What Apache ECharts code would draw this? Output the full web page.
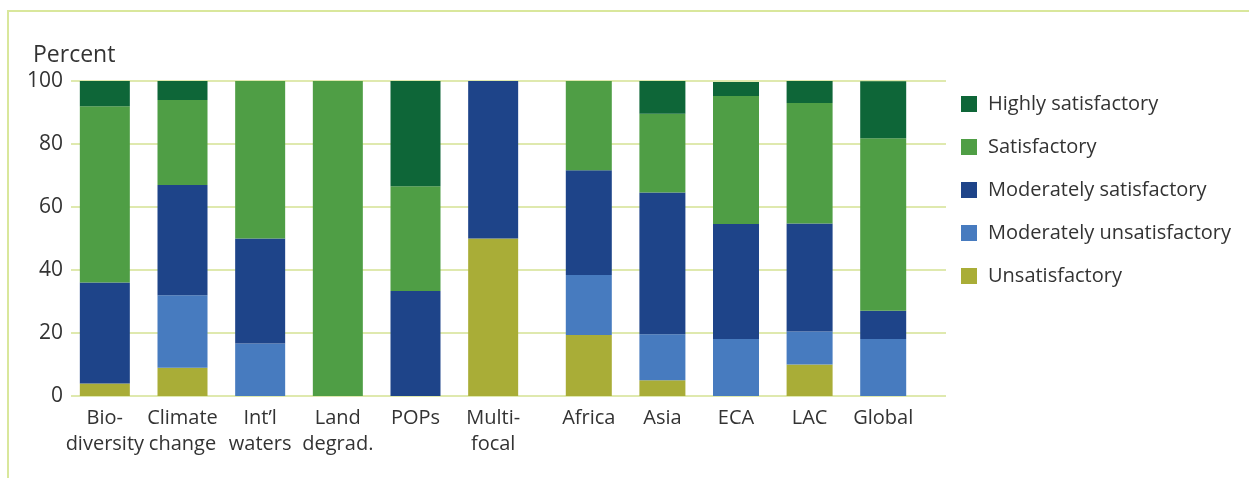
<!DOCTYPE html>
<html>
<head>
<meta charset="utf-8">
<script src="https://cdn.jsdelivr.net/npm/echarts@6/dist/echarts.min.js"></script>
<style>
  html, body { margin: 0; padding: 0; background: #fff; }
  #main { width: 1249px; height: 478px; }
</style>
</head>
<body>
<div id="main"></div>
<script>
// categories: first 6 are focal areas, last 5 are regions
var categories = ['Bio-\ndiversity', 'Climate\nchange', 'Int\u2019l\nwaters', 'Land\ndegrad.', 'POPs', 'Multi-\nfocal',
  'Africa', 'Asia', 'ECA', 'LAC', 'Global'];
var unsatisfactory = [4, 9, 0, 0, 0, 50, 19.4, 5, 0, 10, 0];
var modUnsatisfactory = [0, 23, 16.7, 0, 0, 0, 19, 14.6, 18.1, 10.5, 18.1];
var modSatisfactory = [32, 35, 33.3, 0, 33.3, 50, 33.3, 45, 36.5, 34.3, 9];
var satisfactory = [56, 27, 50, 100, 33.3, 0, 28.6, 25, 40.6, 38.2, 54.7];
var highlySatisfactory = [8, 6, 0, 0, 33.4, 0, 0, 10.4, 4.5, 7, 18.1];
var yTicks = [0, 20, 40, 60, 80, 100];

var ratings = [
  { name: 'Unsatisfactory', data: unsatisfactory, color: '#a9ad37' },
  { name: 'Moderately unsatisfactory', data: modUnsatisfactory, color: '#477bbf' },
  { name: 'Moderately satisfactory', data: modSatisfactory, color: '#1e4489' },
  { name: 'Satisfactory', data: satisfactory, color: '#4f9e45' },
  { name: 'Highly satisfactory', data: highlySatisfactory, color: '#0e6638' }
];

var SPLIT = 6;
var textColor = '#333333';
var font = '"Open Sans", sans-serif';
var lineColor = '#dfe9ae';

var chart = echarts.init(document.getElementById('main'), null, { renderer: 'canvas' });

var series = [];
ratings.forEach(function (r) {
  series.push({
    name: r.name, type: 'bar', stack: 'topics', xAxisIndex: 1, yAxisIndex: 1,
    barWidth: 50, itemStyle: { color: r.color }, data: r.data.slice(0, SPLIT)
  });
  series.push({
    name: r.name, type: 'bar', stack: 'regions', xAxisIndex: 2, yAxisIndex: 2,
    barWidth: 46, itemStyle: { color: r.color }, data: r.data.slice(SPLIT)
  });
});

var catAxis = function (grid, data) {
  return {
    type: 'category', gridIndex: grid, data: data,
    axisLine: { show: false }, axisTick: { show: false },
    axisLabel: { color: textColor, fontFamily: font, fontSize: 20, lineHeight: 26, margin: 9, interval: 0 }
  };
};
var hiddenY = function (grid) {
  return { type: 'value', gridIndex: grid, min: 0, max: 100, interval: 20, show: false };
};

var option = {
  animation: false,
  backgroundColor: '#ffffff',
  title: {
    text: 'Percent', left: 28, top: 39,
    textStyle: { color: textColor, fontFamily: font, fontSize: 23, fontWeight: 500 }
  },
  legend: {
    orient: 'vertical', left: 961, top: 94, padding: 0,
    itemWidth: 16, itemHeight: 16, itemGap: 23, icon: 'rect',
    data: ['Highly satisfactory', 'Satisfactory', 'Moderately satisfactory', 'Moderately unsatisfactory', 'Unsatisfactory'],
    textStyle: { color: textColor, fontFamily: font, fontSize: 20, lineHeight: 20, padding: [0, 0, 0, 6] }
  },
  grid: [
    { left: 71, right: 303, top: 81, height: 315 },
    { left: 66, width: 466, top: 81, height: 315 },
    { left: 552, width: 368, top: 81, height: 315 }
  ],
  xAxis: [
    { type: 'value', gridIndex: 0, show: false },
    catAxis(1, categories.slice(0, SPLIT)),
    catAxis(2, categories.slice(SPLIT))
  ],
  yAxis: [
    {
      type: 'value', gridIndex: 0, min: yTicks[0], max: yTicks[yTicks.length - 1], interval: 20,
      axisLine: { show: false }, axisTick: { show: false },
      splitLine: { show: true, lineStyle: { color: lineColor, width: 2 } },
      axisLabel: { color: textColor, fontFamily: font, fontSize: 21, margin: 8 }
    },
    hiddenY(1),
    hiddenY(2)
  ],
  graphic: [{
    type: 'polyline', silent: true,
    shape: { points: [[8, 478], [8, 11], [1249, 11]] },
    style: { stroke: '#d9e79c', lineWidth: 2, fill: null }
  }],
  series: series
};

chart.setOption(option);
</script>
</body>
</html>
